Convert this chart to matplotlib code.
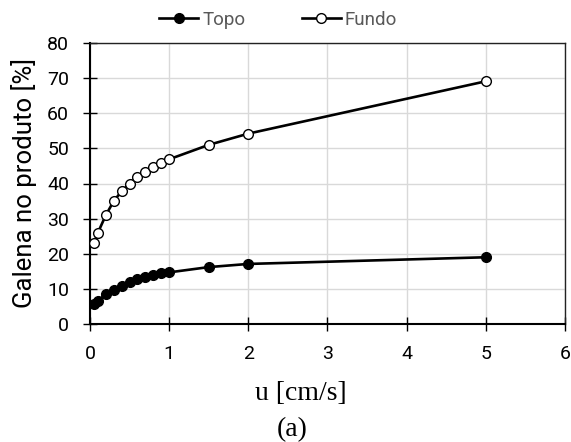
import matplotlib
matplotlib.use("Agg")
import matplotlib.pyplot as plt

u = [0.05, 0.1, 0.2, 0.3, 0.4, 0.5, 0.6, 0.7, 0.8, 0.9, 1.0, 1.5, 2.0, 5.0]
topo = [5.7, 6.6, 8.5, 9.7, 10.9, 11.9, 12.7, 13.4, 14.0, 14.4, 14.7, 16.2, 17.1, 19.0]
fundo = [23.0, 26.0, 31.0, 35.0, 37.8, 40.0, 41.8, 43.3, 44.6, 45.8, 46.9, 51.0, 54.2, 69.1]
xticks = [0, 1, 2, 3, 4, 5, 6]
yticks = [0, 10, 20, 30, 40, 50, 60, 70, 80]

sans = ["Roboto", "DejaVu Sans"]
serif = ["Liberation Serif", "DejaVu Serif"]

W, H = 571, 442
fig = plt.figure(figsize=(W/100, H/100), dpi=100)
ax = fig.add_axes([90/W, 1-324/H, (565-90)/W, (324-43)/H])

ax.plot(u, topo, color="black", lw=1.9, marker="o", ms=7,
        mfc="black", mec="black", mew=1, label="Topo", zorder=3)
ax.plot(u, fundo, color="black", lw=1.9, marker="o", ms=7,
        mfc="white", mec="black", mew=1, label="Fundo", zorder=3)

ax.set_xlim(0, 6)
ax.set_ylim(0, 80)
ax.set_xticks(xticks)
ax.set_yticks(yticks)
ax.grid(True, color="#d9d9d9", lw=1)
ax.set_axisbelow(True)
for s in ["top", "right"]:
    ax.spines[s].set_color("#222222")
    ax.spines[s].set_linewidth(1.0)
for s in ["left", "bottom"]:
    ax.spines[s].set_color("black")
    ax.spines[s].set_linewidth(1.5)
ax.tick_params(direction="inout", length=10, width=1)
ax.tick_params(axis="y", pad=10)
ax.tick_params(axis="x", pad=10)
for lab in ax.get_xticklabels() + ax.get_yticklabels():
    lab.set_family(sans)
    lab.set_fontsize(14)

ax.set_ylabel("Galena no produto [%]", family=sans, fontsize=18.5)
ax.yaxis.set_label_coords(-(90-24)/(565-90), 0.5)
ax.yaxis.label.set_va("center")
fig.text(301/W, 1-393/H, "u [cm/s]", family=serif, fontsize=20,
         ha="center", va="center")
fig.text(292/W, 1-430/H, "(a)", family=serif, fontsize=20,
         ha="center", va="center")

leg = fig.legend(loc="center", bbox_to_anchor=(278/W, 1-20/H), ncol=2,
                 frameon=False, prop={"family": sans, "size": 13.5},
                 handlelength=2.1, handletextpad=0.2, columnspacing=3.0,
                 borderaxespad=0, borderpad=0, labelcolor="#595959")

fig.savefig("out.png", dpi=100)
